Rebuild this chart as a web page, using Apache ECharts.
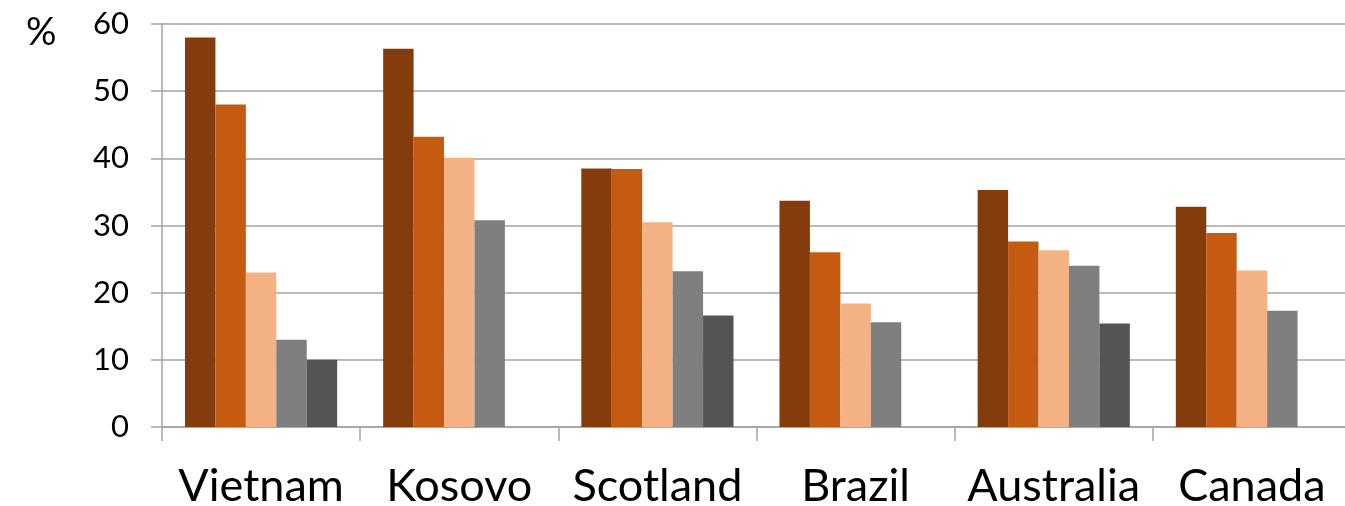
<!DOCTYPE html>
<html>
<head>
<meta charset="utf-8">
<script src="https://cdn.jsdelivr.net/npm/echarts@6/dist/echarts.min.js"></script>
<style>
  html, body { margin: 0; padding: 0; background: #fff; }
  #chart { width: 1345px; height: 506px; }
</style>
</head>
<body>
<div id="chart"></div>
<script>
// Countries along the x axis
const countries = ['Vietnam', 'Kosovo', 'Scotland', 'Brazil', 'Australia', 'Canada'];

// Five groups per country (null where a group has no value)
const series1 = [58.0, 56.3, 38.5, 33.7, 35.3, 32.8];
const series2 = [48.0, 43.2, 38.4, 26.0, 27.6, 28.9];
const series3 = [23.0, 40.1, 30.5, 18.4, 26.3, 23.3];
const series4 = [13.0, 30.8, 23.2, 15.6, 24.0, 17.3];
const series5 = [10.0, null, 16.6, null, 15.4, null];

const seriesColors = ['#843C0C', '#C55A11', '#F4B183', '#7F7F7F', '#545454'];
const yTicks = { min: 0, max: 60, interval: 10 };

const FONT = 'Lato, "Open Sans", sans-serif';
const LINE = '#A3A3A3';

const chart = echarts.init(document.getElementById('chart'), null, { renderer: 'canvas' });

const makeSeries = (data, i) => ({
  type: 'bar',
  data: data,
  barGap: '0%',
  barCategoryGap: '23.2%',
  itemStyle: { color: seriesColors[i] },
  animation: false
});

chart.setOption({
  animation: false,
  title: {
    text: '%',
    left: 21,
    top: 9,
    textStyle: { fontFamily: FONT, fontSize: 38, fontWeight: 'normal', color: '#000' }
  },
  grid: { left: 162, right: -6, top: 24, bottom: 79, containLabel: false, outerBoundsMode: 'none' },
  xAxis: {
    type: 'category',
    data: countries,
    axisLine: { show: true, lineStyle: { color: LINE, width: 1.5 } },
    axisTick: { show: true, length: 14, lineStyle: { color: LINE, width: 1.5 } },
    axisLabel: { interval: 0, hideOverlap: false, fontFamily: FONT, fontSize: 45, color: '#000', margin: 37 }
  },
  yAxis: {
    type: 'value',
    min: yTicks.min,
    max: yTicks.max,
    interval: yTicks.interval,
    axisLine: { show: true, lineStyle: { color: LINE, width: 1.5 } },
    axisTick: { show: true, length: 11, lineStyle: { color: LINE, width: 1.5 } },
    splitLine: { show: true, lineStyle: { color: LINE, width: 1.5 } },
    axisLabel: { fontFamily: FONT, fontSize: 31, color: '#000', margin: 33 }
  },
  series: [series1, series2, series3, series4, series5].map(makeSeries)
});
</script>
</body>
</html>
